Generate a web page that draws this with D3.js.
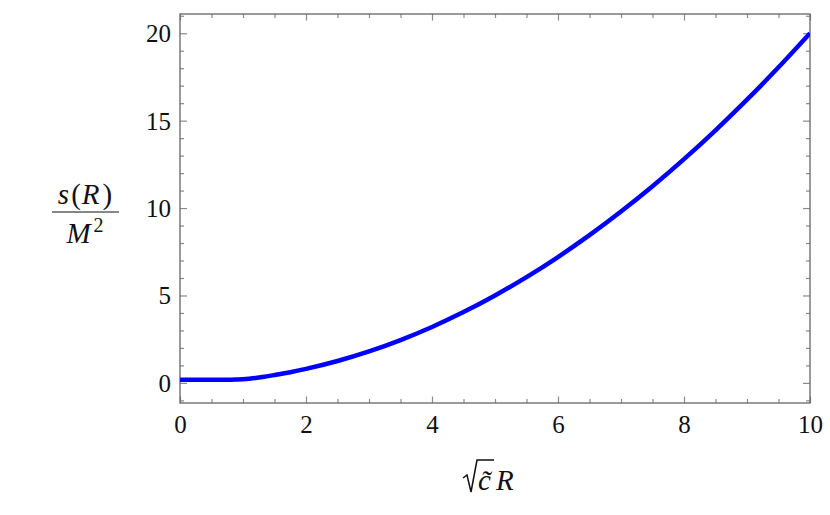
<!DOCTYPE html>
<html>
<head>
<meta charset="utf-8">
<script src="https://cdn.jsdelivr.net/npm/d3@7"></script>
<style>
  body { margin: 0; background: #fff; }
  text { font-family: "Liberation Serif", "Times New Roman", serif; fill: #111; }
</style>
</head>
<body>
<svg id="chart" width="830" height="515"></svg>
<script>
// values
const rValues = [0, 0.5, 0.8, 0.9, 1, 1.1, 1.2, 1.35, 1.5, 1.75, 2, 2.5, 3, 3.5, 4, 4.5, 5, 5.5, 6, 6.5, 7, 7.5, 8, 8.5, 9, 9.5, 10];
const sValues = [0.18, 0.18, 0.185, 0.195, 0.21, 0.24, 0.28, 0.36, 0.45, 0.61, 0.8, 1.25, 1.8, 2.45, 3.2, 4.05, 5.0, 6.05, 7.2, 8.45, 9.8, 11.25, 12.8, 14.45, 16.2, 18.05, 20.0];
const xMajor = [0, 2, 4, 6, 8, 10];
const yMajor = [0, 5, 10, 15, 20];

const points = rValues.map((r, i) => [r, sValues[i]]);

const svg = d3.select('#chart');

const pLeft = 180, pRight = 810, pTop = 14, pBottom = 403;

const xScale = d3.scaleLinear().domain([0, 10]).range([pLeft, pRight]);
const yScale = d3.scaleLinear().domain([-1.15, 21.1]).range([pBottom, pTop]);

const xMinor = d3.range(0, 10.01, 0.5).filter(d => d % 2 !== 0);
const yMinor = d3.range(-1, 21.01, 1).filter(d => d % 5 !== 0);

//------------------------------------------------------------------------------
// ticks on all four sides, pointing inward
const tickColor = '#8a8a8a';

const addAxis = (axis, tx, ty, values, size, labels) => {
    const g = svg.append('g')
        .attr('transform', `translate(${tx},${ty})`)
        .call(axis.tickValues(values).tickSizeInner(-size).tickSizeOuter(0)
            .tickFormat(labels ? d3.format('d') : ''));
    g.attr('font-family', null);
    g.select('.domain').remove();
    g.selectAll('.tick line').attr('stroke', tickColor).attr('stroke-width', 1.2);
    return g;
};

const xb = addAxis(d3.axisBottom(xScale), 0, pBottom, xMajor, 6.5, true);
addAxis(d3.axisBottom(xScale), 0, pBottom, xMinor, 4, false);
addAxis(d3.axisTop(xScale), 0, pTop, xMajor, 6.5, false);
addAxis(d3.axisTop(xScale), 0, pTop, xMinor, 4, false);
const yl = addAxis(d3.axisLeft(yScale), pLeft, 0, yMajor, 7, true);
addAxis(d3.axisLeft(yScale), pLeft, 0, yMinor, 4, false);
addAxis(d3.axisRight(yScale), pRight, 0, yMajor, 7, false);
addAxis(d3.axisRight(yScale), pRight, 0, yMinor, 4, false);

xb.selectAll('.tick text')
    .attr('y', 0).attr('dy', 0)
    .attr('transform', 'translate(0,30)')
    .style('font-size', '25px');
yl.selectAll('.tick text')
    .attr('x', -9).attr('dy', '0.34em')
    .style('font-size', '25px');

// frame
svg.append('rect')
    .attr('x', pLeft).attr('y', pTop)
    .attr('width', pRight - pLeft).attr('height', pBottom - pTop)
    .attr('fill', 'none')
    .attr('stroke', '#666')
    .attr('stroke-width', 1.3);

//------------------------------------------------------------------------------
// curve
svg.append('defs').append('clipPath').attr('id', 'clip')
    .append('rect')
    .attr('x', pLeft).attr('y', pTop)
    .attr('width', pRight - pLeft).attr('height', pBottom - pTop);

const line = d3.line()
    .x(d => xScale(d[0]))
    .y(d => yScale(d[1]))
    .curve(d3.curveMonotoneX);

svg.append('path')
    .datum(points)
    .attr('clip-path', 'url(#clip)')
    .attr('d', line)
    .attr('fill', 'none')
    .attr('stroke', '#0000ff')
    .attr('stroke-width', 4.5)
    .attr('stroke-linejoin', 'round');

//------------------------------------------------------------------------------
// y title: s(R) / M^2
const yTitle = svg.append('g').attr('transform', 'translate(85,0)');
const num = yTitle.append('text')
    .attr('x', 0).attr('y', 204)
    .attr('text-anchor', 'middle')
    .style('font-size', '29px');
num.append('tspan').style('font-style', 'italic').text('s');
num.append('tspan').attr('dx', 2).text('(');
num.append('tspan').attr('dx', 1).style('font-style', 'italic').text('R');
num.append('tspan').attr('dx', 3).text(')');
yTitle.append('line')
    .attr('x1', -33).attr('x2', 34)
    .attr('y1', 212).attr('y2', 212)
    .attr('stroke', '#111').attr('stroke-width', 1.2);
const den = yTitle.append('text')
    .attr('x', 0).attr('y', 243)
    .attr('text-anchor', 'middle')
    .style('font-size', '29px');
den.append('tspan').style('font-style', 'italic').text('M');
den.append('tspan').attr('dx', 3).attr('dy', -11).style('font-size', '20px').text('2');

// x title: sqrt(c~) R
const xTitle = svg.append('g');
xTitle.append('path')
    .attr('d', 'M463,478 L467,475 L471,492 L477,460 L494,460')
    .attr('fill', 'none')
    .attr('stroke', '#111')
    .attr('stroke-width', 1.5)
    .attr('stroke-linejoin', 'miter');
const xt = xTitle.append('text')
    .attr('x', 478).attr('y', 490)
    .style('font-size', '29px')
    .style('font-style', 'italic');
xt.append('tspan').text('c\u0303');
xt.append('tspan').attr('dx', 5).text('R');
</script>
</body>
</html>
